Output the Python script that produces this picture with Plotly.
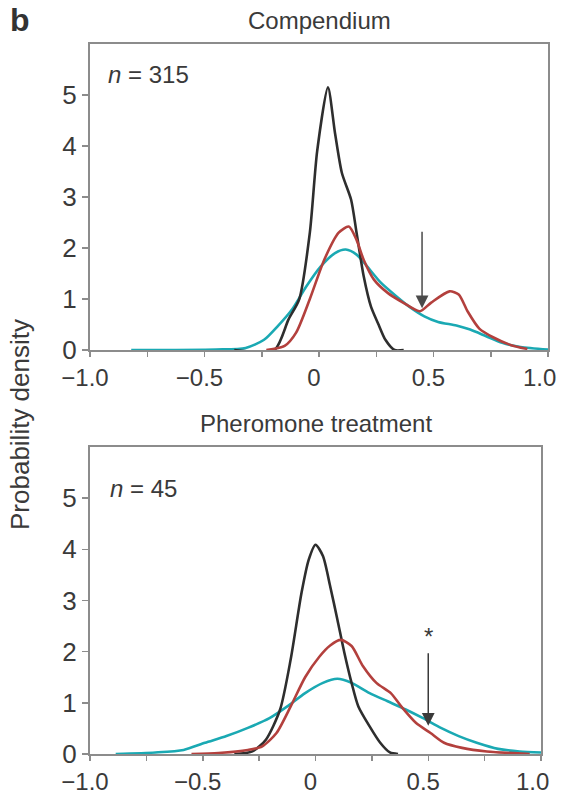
import plotly.graph_objects as go

# ---- data: top panel (Compendium, n = 315) ----
top_black_x = [-0.37, -0.195, -0.133, -0.086, -0.04, -0.008, 0.039, 0.07, 0.10, 0.14, 0.164, 0.195, 0.227, 0.26, 0.29, 0.33, 0.37]
top_black_y = [0.0, 0.0, 0.6, 1.0, 2.3, 3.9, 5.15, 4.25, 3.47, 2.95, 2.3, 1.45, 0.85, 0.5, 0.2, 0.0, 0.0]

top_red_x = [-0.23, -0.15, -0.10, -0.04, 0.023, 0.086, 0.13, 0.164, 0.195, 0.24, 0.30, 0.367, 0.44, 0.49, 0.57, 0.61, 0.65, 0.70, 0.76, 0.836, 0.91]
top_red_y = [0.0, 0.08, 0.34, 1.0, 1.77, 2.3, 2.42, 2.16, 1.77, 1.38, 1.12, 0.93, 0.76, 0.93, 1.15, 1.09, 0.75, 0.42, 0.25, 0.1, 0.02]

top_cyan_x = [-0.82, -0.45, -0.32, -0.24, -0.18, -0.117, -0.055, 0.008, 0.07, 0.117, 0.164, 0.21, 0.27, 0.336, 0.40, 0.46, 0.52, 0.60, 0.66, 0.73, 0.80, 0.88, 1.0]
top_cyan_y = [0.0, 0.01, 0.04, 0.2, 0.47, 0.8, 1.25, 1.64, 1.9, 1.97, 1.87, 1.64, 1.32, 1.06, 0.83, 0.66, 0.55, 0.48, 0.40, 0.27, 0.14, 0.06, 0.01]

# ---- data: bottom panel (Pheromone treatment, n = 45) ----
bot_black_x = [-0.36, -0.28, -0.22, -0.157, -0.11, -0.062, -0.03, 0.0, 0.033, 0.065, 0.097, 0.128, 0.16, 0.19, 0.24, 0.287, 0.33, 0.366]
bot_black_y = [0.0, 0.05, 0.28, 0.87, 1.85, 3.15, 3.8, 4.09, 3.87, 3.28, 2.63, 1.98, 1.39, 0.93, 0.54, 0.22, 0.03, 0.0]

bot_red_x = [-0.55, -0.43, -0.30, -0.236, -0.173, -0.11, -0.046, 0.017, 0.065, 0.112, 0.16, 0.21, 0.27, 0.334, 0.38, 0.445, 0.51, 0.57, 0.65, 0.76, 0.95]
bot_red_y = [0.0, 0.02, 0.08, 0.15, 0.41, 0.93, 1.5, 1.9, 2.12, 2.23, 2.11, 1.72, 1.39, 1.19, 0.93, 0.61, 0.41, 0.22, 0.12, 0.05, 0.0]

bot_cyan_x = [-0.886, -0.71, -0.585, -0.49, -0.395, -0.30, -0.204, -0.125, -0.046, 0.033, 0.097, 0.16, 0.24, 0.32, 0.40, 0.477, 0.556, 0.635, 0.715, 0.81, 0.905, 1.0]
bot_cyan_y = [0.0, 0.03, 0.08, 0.22, 0.35, 0.51, 0.70, 0.93, 1.19, 1.39, 1.47, 1.39, 1.19, 1.03, 0.87, 0.70, 0.51, 0.35, 0.22, 0.10, 0.05, 0.03]

x_tickvals = [-1.0, -0.75, -0.5, -0.25, 0.0, 0.25, 0.5, 0.75, 1.0]
x_ticktext = ["\u22121.0", "", "\u22120.5", "", "0", "", "0.5", "", "1.0\u00a0"]
y_tickvals = [0, 1, 2, 3, 4, 5]
y_ticktext = ["0", "1", "2", "3", "4", "5"]

panel_titles = ["Compendium", "Pheromone treatment"]
panel_n = ["<i>n</i> = 315", "<i>n</i> = 45"]

# arrows (x, tail y, head y)
top_arrow = (0.45, 2.35, 0.82)
bot_arrow = (0.50, 2.0, 0.55)
bot_star_y = 2.3

BLACK = "#2e2e2e"
RED = "#b3403d"
CYAN = "#1aa9b3"
AXIS = "#8c8c8c"
TEXT = "#3a3a3a"
FONT = "Liberation Sans, Arial, sans-serif"

fig = go.Figure()

def add(x, y, color, xa, ya):
    fig.add_trace(go.Scatter(x=x, y=y, mode="lines", xaxis=xa, yaxis=ya,
                             line=dict(color=color, width=2.6, shape="spline", smoothing=0.7),
                             showlegend=False, hoverinfo="skip", cliponaxis=True))

add(top_cyan_x, top_cyan_y, CYAN, "x", "y")
add(top_black_x, top_black_y, BLACK, "x", "y")
add(top_red_x, top_red_y, RED, "x", "y")
add(bot_cyan_x, bot_cyan_y, CYAN, "x2", "y2")
add(bot_black_x, bot_black_y, BLACK, "x2", "y2")
add(bot_red_x, bot_red_y, RED, "x2", "y2")

W, H = 564, 795
def px_x(p):
    return p / W
def px_y(p):
    return 1 - p / H

xaxis_common = dict(range=[-1, 1], tickmode="array", tickvals=x_tickvals, ticktext=x_ticktext,
                    ticks="outside", ticklen=5, tickwidth=1.5, tickcolor=AXIS,
                    showline=True, linecolor=AXIS, linewidth=2, mirror=True,
                    showgrid=False, zeroline=False, automargin=False,
                    ticklabeloverflow="allow", ticklabelshift=-5,
                    tickfont=dict(family=FONT, size=24, color=TEXT))
yaxis_common = dict(range=[0, 6], tickmode="array", tickvals=y_tickvals, ticktext=y_ticktext,
                    ticks="outside", ticklen=6, tickwidth=1.5, tickcolor=AXIS,
                    showline=True, linecolor=AXIS, linewidth=2, mirror=True,
                    showgrid=False, zeroline=False, automargin=False,
                    tickfont=dict(family=FONT, size=26, color=TEXT))

fig.update_layout(
    width=W, height=H, margin=dict(l=0, r=0, t=0, b=0, autoexpand=False),
    paper_bgcolor="white", plot_bgcolor="white",
    xaxis=dict(xaxis_common, domain=[px_x(90), px_x(548)], anchor="y"),
    yaxis=dict(yaxis_common, domain=[px_y(350), px_y(44)], anchor="x"),
    xaxis2=dict(xaxis_common, domain=[px_x(90), px_x(541)], anchor="y2"),
    yaxis2=dict(yaxis_common, domain=[px_y(754), px_y(447)], anchor="x2"),
)

ann = []
ann.append(dict(text="<b>b</b>", x=px_x(8), y=px_y(0), xref="paper", yref="paper",
                xanchor="left", yanchor="top", showarrow=False,
                font=dict(family=FONT, size=32, color="#333333")))
ann.append(dict(text=panel_titles[0], x=px_x(319), y=px_y(36), xref="paper", yref="paper",
                xanchor="center", yanchor="bottom", showarrow=False,
                font=dict(family=FONT, size=24, color=TEXT)))
ann.append(dict(text=panel_titles[1], x=px_x(316), y=px_y(439), xref="paper", yref="paper",
                xanchor="center", yanchor="bottom", showarrow=False,
                font=dict(family=FONT, size=24, color=TEXT)))
ann.append(dict(text=panel_n[0], x=px_x(106), y=px_y(75), xref="paper", yref="paper",
                xanchor="left", yanchor="middle", showarrow=False,
                font=dict(family=FONT, size=24, color=TEXT)))
ann.append(dict(text=panel_n[1], x=px_x(108), y=px_y(488), xref="paper", yref="paper",
                xanchor="left", yanchor="middle", showarrow=False,
                font=dict(family=FONT, size=24, color=TEXT)))
ann.append(dict(text="Probability density", x=px_x(20), y=px_y(425), xref="paper", yref="paper",
                xanchor="center", yanchor="middle", showarrow=False, textangle=-90,
                font=dict(family=FONT, size=26, color=TEXT)))
# arrows
ann.append(dict(x=top_arrow[0], y=top_arrow[2], ax=top_arrow[0], ay=top_arrow[1],
                xref="x", yref="y", axref="x", ayref="y", text="", showarrow=True,
                arrowhead=2, arrowsize=1.7, arrowwidth=1.5, arrowcolor="#4a4a4a"))
ann.append(dict(x=bot_arrow[0], y=bot_arrow[2], ax=bot_arrow[0], ay=bot_arrow[1],
                xref="x2", yref="y2", axref="x2", ayref="y2", text="", showarrow=True,
                arrowhead=2, arrowsize=1.7, arrowwidth=1.5, arrowcolor="#3a3a3a"))
ann.append(dict(text="*", x=bot_arrow[0], y=bot_star_y, xref="x2", yref="y2",
                xanchor="center", yanchor="middle", showarrow=False,
                font=dict(family=FONT, size=24, color=TEXT)))
fig.update_layout(annotations=ann)

fig.write_html("out.html", config={"displayModeBar": False, "staticPlot": True},
               post_script="document.body.style.margin='0';document.body.style.overflow='hidden';")
